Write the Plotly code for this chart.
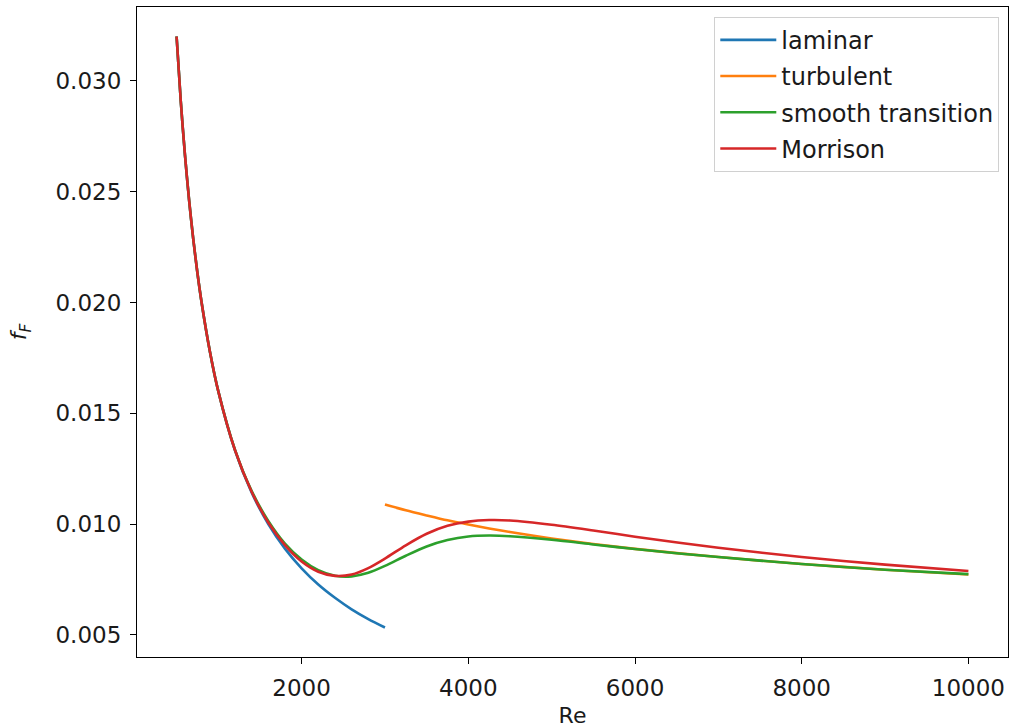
import plotly.graph_objects as go

# Fanning friction factor vs Reynolds number
re_lam = [500, 550, 600, 650, 700, 750, 800, 900, 1000, 1200, 1400, 1600, 1800,
          2000, 2200, 2400, 2600, 2800, 3000]
f_lam = [0.03200, 0.02909, 0.02667, 0.02462, 0.02286, 0.02133, 0.02000, 0.01778,
         0.01600, 0.01333, 0.01143, 0.01000, 0.00889, 0.00800, 0.00727, 0.00667,
         0.00615, 0.00571, 0.00533]

re_turb = [3000, 3250, 3500, 3750, 4000, 4250, 4500, 5000, 5500, 6000, 7000, 8000,
           9000, 10000]
f_turb = [0.01088, 0.01062, 0.01039, 0.01017, 0.00998, 0.00980, 0.00964, 0.00935,
          0.00910, 0.00888, 0.00851, 0.00820, 0.00794, 0.00772]

re_full = [500, 550, 600, 650, 700, 750, 800, 900, 1000, 1200, 1400, 1600, 1800,
           2000, 2200, 2400, 2600, 2800, 3000, 3250, 3500, 3750, 4000, 4250, 4500,
           5000, 5500, 6000, 7000, 8000, 9000, 10000]
f_smooth = [0.03200, 0.02909, 0.02667, 0.02462, 0.02286, 0.02133, 0.02000, 0.01778,
            0.01600, 0.01336, 0.01150, 0.01014, 0.00912, 0.00840, 0.00792, 0.00767,
            0.00764, 0.00780, 0.00811, 0.00857, 0.00899, 0.00928, 0.00944, 0.00948,
            0.00945, 0.00929, 0.00908, 0.00887, 0.00851, 0.00820, 0.00794, 0.00774]
f_morrison = [0.03200, 0.02909, 0.02667, 0.02462, 0.02286, 0.02133, 0.02000, 0.01778,
              0.01600, 0.01334, 0.01146, 0.01007, 0.00905, 0.00831, 0.00785, 0.00766,
              0.00772, 0.00801, 0.00844, 0.00904, 0.00956, 0.00992, 0.01011, 0.01018,
              0.01016, 0.00997, 0.00971, 0.00943, 0.00893, 0.00851, 0.00817, 0.00788]

x_ticks = [2000, 4000, 6000, 8000, 10000]
y_ticks = [0.005, 0.010, 0.015, 0.020, 0.025, 0.030]

FONT = "DejaVu Sans"
LW = 2.6

series = [
    ("laminar", re_lam, f_lam, "#1f77b4"),
    ("turbulent", re_turb, f_turb, "#ff7f0e"),
    ("smooth transition", re_full, f_smooth, "#2ca02c"),
    ("Morrison", re_full, f_morrison, "#d62728"),
]

fig = go.Figure()
for name, xs, ys, color in series:
    fig.add_trace(go.Scatter(
        x=xs, y=ys, name=name, mode="lines", legendgroup=name,
        line=dict(color=color, width=LW, shape="spline", smoothing=0.8),
    ))

axis_common = dict(
    showgrid=False, zeroline=False, showline=True, mirror=True,
    linecolor="black", linewidth=1.2, ticks="outside", ticklen=6,
    tickwidth=1.2, tickcolor="black", ticklabelstandoff=4,
    tickfont=dict(family=FONT, size=23, color="#1a1a1a"),
)

fig.update_layout(
    width=1010, height=728,
    margin=dict(l=137, r=2, t=7, b=71),
    paper_bgcolor="white", plot_bgcolor="white",
    font=dict(family=FONT, size=23, color="#1a1a1a"),
    xaxis=dict(range=[25, 10475], tickvals=x_ticks,
               ticktext=[str(v) for v in x_ticks],
               title=dict(text="Re", font=dict(family=FONT, size=22), standoff=10),
               **axis_common),
    yaxis=dict(range=[0.0040, 0.033333], tickvals=y_ticks, tickformat=".3f",
               title=dict(text="<i>f</i><sub><i>F</i></sub>",
                          font=dict(family=FONT, size=22), standoff=22),
               **axis_common),
    legend=dict(
        x=0.99, y=0.985, xanchor="right", yanchor="top",
        bgcolor="rgba(255,255,255,0.8)", bordercolor="#d0d0d0", borderwidth=1,
        font=dict(family=FONT, size=24, color="#1a1a1a"),
        tracegroupgap=2, itemwidth=56,
    ),
    showlegend=True,
)

fig.write_html("out.html")
